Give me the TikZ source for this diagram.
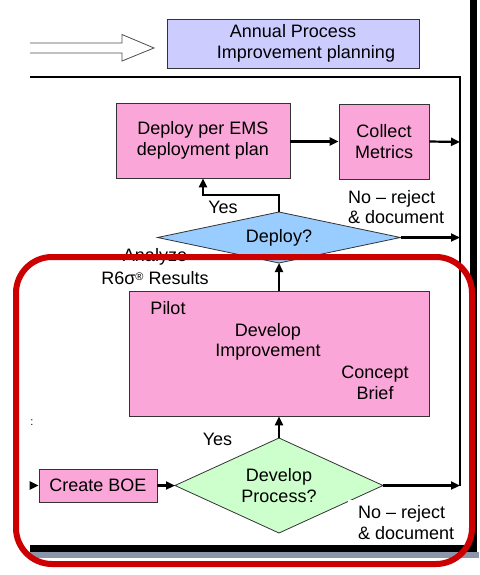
\documentclass[tikz,border=0pt]{standalone}
\usepackage{fontspec}
\setmainfont{Liberation Sans}
\usetikzlibrary{arrows.meta,shapes.geometric}
\definecolor{boxpink}{RGB}{250,166,216}
\definecolor{planlav}{RGB}{204,204,255}
\definecolor{deployblue}{RGB}{153,204,255}
\definecolor{devgreen}{RGB}{204,255,204}
\definecolor{framered}{RGB}{204,0,0}
\definecolor{bandgray}{RGB}{140,150,170}
\begin{document}
\begin{tikzpicture}[x=1pt,y=-1pt,
  font=\fontsize{18}{20.5}\selectfont,
  proc/.style={draw=black!80, line width=0.8pt, fill=boxpink, inner sep=0pt, align=center},
  decision/.style={diamond, draw=black!80, line width=0.8pt, inner sep=0pt, outer sep=0pt, align=center},
  flow/.style={line width=2.2pt, -{Triangle[length=9pt,width=8pt]}},
  wire/.style={line width=2.2pt},
  lbl/.style={inner sep=0pt, align=left}]
\useasboundingbox (0,0) rectangle (479,575);

% page edge and shadow
\fill[black] (470,0) rectangle (477,552);
\fill[black] (30,545) rectangle (477,552);
\fill[bandgray] (30,552) rectangle (479,558);

% outline arrow into the planning box
\draw[line width=0.8pt, draw=black!70, line join=miter]
  (30,43) -- (122,43) -- (122,34.5) -- (154,48) -- (122,61) -- (122,53) -- (30,53);

% nodes
\node[proc, fill=planlav, minimum width=252pt, minimum height=49pt] (annual) at (293,43.5)
  {Annual Process\\\hspace*{26pt}Improvement planning};
\node[proc, minimum width=174pt, minimum height=75pt] (deploybox) at (203,140.5)
  {Deploy per EMS\\deployment plan};
\node[proc, minimum width=90pt, minimum height=75pt] (collect) at (384,141.5)
  {Collect\\Metrics};
\node[decision, fill=deployblue, aspect=4.8, minimum width=243pt, minimum height=51pt] (deployq) at (279,237.5)
  {Deploy?};
\node[proc, minimum width=300pt, minimum height=125pt] (imp) at (279,353.5) {};
\node[lbl] (pilot) at (168,308) {Pilot};
\node[lbl, align=center] (devimp) at (268,342) {Develop\\Improvement};
\node[lbl, align=center] (brief) at (375,383) {Concept\\Brief};
\node[decision, fill=devgreen, aspect=2.19, minimum width=208pt, minimum height=95pt] (devq) at (279,485.5)
  {Develop\\Process?};
\node[proc, minimum width=118pt, minimum height=33pt] (boe) at (98,485.5) {Create BOE};
\node[inner sep=0pt, font=\fontsize{11}{12}\selectfont] (dots) at (32,423) {:};

% free ends on the return line
\coordinate (ltop) at (30,77);
\coordinate (rtop) at (460,77);
\coordinate (rm1) at (460,142);
\coordinate (rm2) at (460,237.5);
\coordinate (rb) at (460,485.5);
\coordinate (bin) at (30,485.5);

% connectors
\draw[wire, line join=miter] (ltop) -- (rtop) -- (rb);
\draw[flow] (deploybox.east |- collect.west) -- (collect.west);
\draw[flow] (collect.east) -- (rm1);
\draw[flow] (deployq.north) -- ++(0,-17) -| (deploybox.south);
\draw[flow] (deployq.east) -- (rm2);
\draw[flow] (imp.north) -- (deployq.south);
\draw[flow] (devq.north) -- (imp.south);
\draw[flow] (boe.east) -- (devq.west);
\draw[flow] (bin) -- (boe.west);
\draw[flow] (devq.east) -- (rb);

% labels
\node[lbl] (yes1) at (223,207) {Yes};
\node[lbl, anchor=west] (no1) at (348,207) {No – reject\\\& document};
\node[inner sep=0pt, align=center] (analyze) at (155,267) {Analyze\\[2.5pt]R6σ\raisebox{4pt}{\fontsize{11}{12}\selectfont ®} Results};
\node[lbl] (yes2) at (217.5,439) {Yes};
\node[lbl, anchor=west, fill=white, inner xsep=10pt, inner ysep=6pt] (no2) at (348,522.5)
  {No – reject\\\& document};

% highlight frame
\draw[line width=6pt, draw=framered, rounded corners=36pt] (16,257) rectangle (472,564);
\end{tikzpicture}
\end{document}
